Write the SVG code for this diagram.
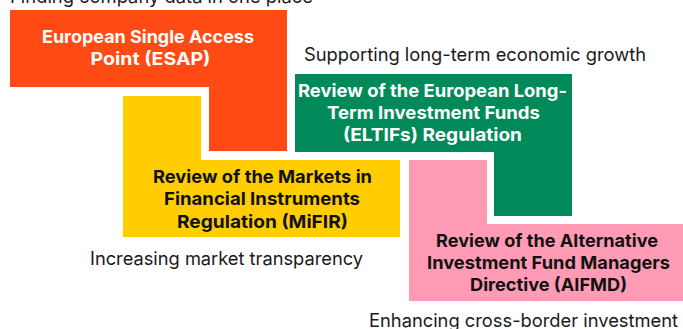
<svg xmlns="http://www.w3.org/2000/svg" width="683" height="329" viewBox="0 0 683 329">
<style>
.cap{font-family:Inter,"Open Sans","Liberation Sans",sans-serif;font-size:18.4px;fill:#1a1a1a}
.lbl{font-family:Inter,"Open Sans","Liberation Sans",sans-serif;font-size:18px;font-weight:700;text-anchor:middle}
.w{fill:#ffffff}
.k{fill:#111111}
</style>
<rect width="683" height="329" fill="#ffffff"/>
<g id="esap">
<text class="cap" x="10" y="3" textLength="303" lengthAdjust="spacingAndGlyphs">Finding company data in one place</text>
<polygon points="10,10 287,10 287,151 209,151 209,87 10,87" fill="#FF4A14"/>
<text class="lbl w" x="148" y="43" textLength="212" lengthAdjust="spacingAndGlyphs">European Single Access</text>
<text class="lbl w" x="150.5" y="65" textLength="120" lengthAdjust="spacingAndGlyphs">Point  (ESAP)</text>
</g>
<g id="mifir">
<polygon points="123,96 201,96 201,160 400,160 400,237 123,237" fill="#FFCD00"/>
<text class="lbl k" x="262.5" y="183" textLength="219" lengthAdjust="spacingAndGlyphs">Review of the Markets in</text>
<text class="lbl k" x="262" y="205" textLength="196" lengthAdjust="spacingAndGlyphs">Financial Instruments</text>
<text class="lbl k" x="262.5" y="228" textLength="171" lengthAdjust="spacingAndGlyphs">Regulation (MiFIR)</text>
<text class="cap" x="90" y="265" textLength="273" lengthAdjust="spacingAndGlyphs">Increasing market transparency</text>
</g>
<g id="eltif">
<text class="cap" x="304" y="61" textLength="342" lengthAdjust="spacingAndGlyphs">Supporting long-term economic growth</text>
<polygon points="295,74 572,74 572,216 494,216 494,152 295,152" fill="#008A5A"/>
<text class="lbl w" x="432.5" y="97" textLength="269" lengthAdjust="spacingAndGlyphs">Review of the European Long-</text>
<text class="lbl w" x="433.5" y="119" textLength="213" lengthAdjust="spacingAndGlyphs">Term Investment Funds</text>
<text class="lbl w" x="432.5" y="141" textLength="179" lengthAdjust="spacingAndGlyphs">(ELTIFs) Regulation</text>
</g>
<g id="aifmd">
<polygon points="409,160 487,160 487,224 683,224 683,301 409,301" fill="#FF9BB4"/>
<text class="lbl k" x="547" y="247" textLength="222" lengthAdjust="spacingAndGlyphs">Review of the Alternative</text>
<text class="lbl k" x="548.5" y="269" textLength="243" lengthAdjust="spacingAndGlyphs">Investment Fund Managers</text>
<text class="lbl k" x="548.5" y="291" textLength="157" lengthAdjust="spacingAndGlyphs">Directive (AIFMD)</text>
<text class="cap" x="369" y="327" textLength="309" lengthAdjust="spacingAndGlyphs">Enhancing cross-border investment</text>
</g>
<g id="connectors"/>
</svg>
